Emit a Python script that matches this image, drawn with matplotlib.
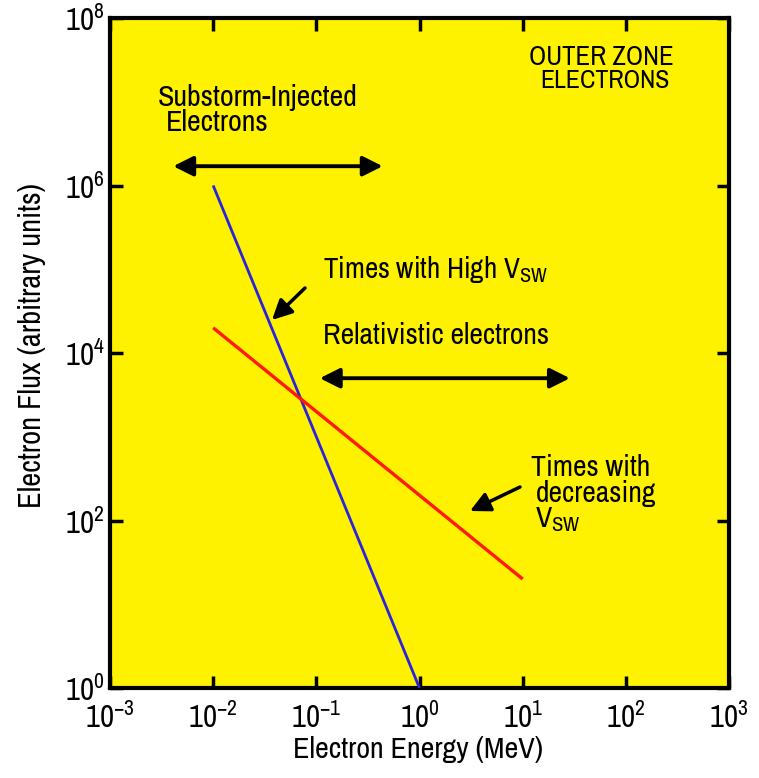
import matplotlib
matplotlib.use("Agg")
import matplotlib.pyplot as plt
from matplotlib.ticker import FixedLocator, FuncFormatter, NullLocator
import numpy as np

FONT = ['Archivo Narrow', 'Liberation Sans', 'DejaVu Sans']
plt.rcParams['font.family'] = FONT
plt.rcParams['mathtext.fontset'] = 'custom'
plt.rcParams['mathtext.rm'] = 'Archivo Narrow'
plt.rcParams['mathtext.it'] = 'Archivo Narrow'
plt.rcParams['mathtext.bf'] = 'Archivo Narrow'

# ---------------- data ----------------
high_vsw_energy = [1e-2, 1e0]      # MeV
high_vsw_flux = [1e6, 1e0]
decr_vsw_energy = [1e-2, 1e1]
decr_vsw_flux = [2e4, 2e1]
substorm_range = [4.1e-3, 0.44]
substorm_y = 1.7e6
relativistic_range = [0.108, 28.7]
relativistic_y = 5.0e3
x_ticks = [1e-3, 1e-2, 1e-1, 1e0, 1e1, 1e2, 1e3]
y_ticks = [1e0, 1e2, 1e4, 1e6, 1e8]

YELLOW = '#fff200'

fig = plt.figure(figsize=(7.59, 7.78), dpi=100)
ax = fig.add_axes([110 / 759, 1 - 688 / 778, 619 / 759, 670 / 778])
ax.set_facecolor(YELLOW)
ax.set_xscale('log')
ax.set_yscale('log')
ax.set_xlim(1e-3, 1e3)
ax.set_ylim(1e0, 1e8)

ax.plot(high_vsw_energy, high_vsw_flux, color='#2a22dd', lw=2.0, solid_capstyle='butt', zorder=3)
ax.plot(decr_vsw_energy, decr_vsw_flux, color='#ff1a00', lw=2.4, solid_capstyle='butt', zorder=3)

def fmt(v, pos):
    e = int(round(np.log10(v)))
    return r'$\mathregular{10^{%d}}$' % e

renderer = fig.canvas.get_renderer()

def fit(t, target, dim='w'):
    for _ in range(3):
        bb = t.get_window_extent(renderer)
        cur = bb.width if dim == 'w' else bb.height
        t.set_fontsize(t.get_fontsize() * target / cur)
    return t.get_fontsize()

# tick label size: the reference digits are taller than this font's, so enlarge a bit
dummy = fig.text(0.5, 0.5, '10', fontsize=18)
tick_fs = fit(dummy, 25) * 1.12
dummy.remove()

ax.xaxis.set_major_locator(FixedLocator(x_ticks))
ax.yaxis.set_major_locator(FixedLocator(y_ticks))
ax.xaxis.set_minor_locator(NullLocator())
ax.yaxis.set_minor_locator(NullLocator())
ax.xaxis.set_major_formatter(FuncFormatter(fmt))
ax.yaxis.set_major_formatter(FuncFormatter(fmt))
ax.tick_params(which='major', direction='in', length=9, width=2.5,
               top=True, right=True, labelsize=tick_fs, colors='black')
ax.tick_params(axis='x', pad=10)
ax.tick_params(axis='y', pad=4)
for s in ax.spines.values():
    s.set_linewidth(3)

xl = ax.set_xlabel('Electron Energy (MeV)', fontsize=20)
yl = ax.set_ylabel('Electron Flux (arbitrary units)', fontsize=20)
fit(xl, 250, 'w')
fit(yl, 325, 'h')
ax.xaxis.set_label_coords(0.4976, -0.071)
ax.yaxis.set_label_coords(-0.104, 0.511)

def px(x, y):
    return ((x - 110) / 619, (688 - y) / 670)

def label(s, x, y, target, ha='left'):
    t = ax.text(*px(x, y), s, transform=ax.transAxes, fontsize=20, ha=ha, va='baseline')
    return fit(t, target, 'w')

label('OUTER ZONE', 601, 65, 145, ha='center')
label('ELECTRONS', 605, 88, 130, ha='center')
fs_sub = label('Substorm-Injected', 158, 106, 200)
ax.text(*px(166, 131), 'Electrons', transform=ax.transAxes, fontsize=fs_sub, ha='left', va='baseline')
label(r'Times with High V$_\mathregular{SW}$', 323, 278, 225)
fs_rel = label('Relativistic electrons', 323, 344, 226)
ax.text(*px(531, 476), 'Times with', transform=ax.transAxes, fontsize=fs_rel, ha='left', va='baseline')
ax.text(*px(536, 502), 'decreasing', transform=ax.transAxes, fontsize=fs_rel, ha='left', va='baseline')
ax.text(*px(535, 527), r'V$_\mathregular{SW}$', transform=ax.transAxes, fontsize=fs_rel, ha='left', va='baseline')

arrow_kw = dict(arrowstyle='<|-|>,head_length=0.6,head_width=0.3', color='black', lw=2.8,
                shrinkA=0, shrinkB=0, mutation_scale=20)
ax.annotate('', xy=(substorm_range[0], substorm_y), xytext=(substorm_range[1], substorm_y),
            arrowprops=arrow_kw)
ax.annotate('', xy=(relativistic_range[0], relativistic_y), xytext=(relativistic_range[1], relativistic_y),
            arrowprops=arrow_kw)
single_kw = dict(arrowstyle='-|>,head_length=0.6,head_width=0.3', color='black', lw=2.5,
                 shrinkA=0, shrinkB=0, mutation_scale=20)
ax.annotate('', xy=px(272, 320), xytext=px(305, 288), xycoords='axes fraction',
            textcoords='axes fraction', arrowprops=single_kw)
ax.annotate('', xy=px(470, 511), xytext=px(520, 487), xycoords='axes fraction',
            textcoords='axes fraction', arrowprops=single_kw)

fig.savefig('out.png', dpi=100, facecolor='white')
